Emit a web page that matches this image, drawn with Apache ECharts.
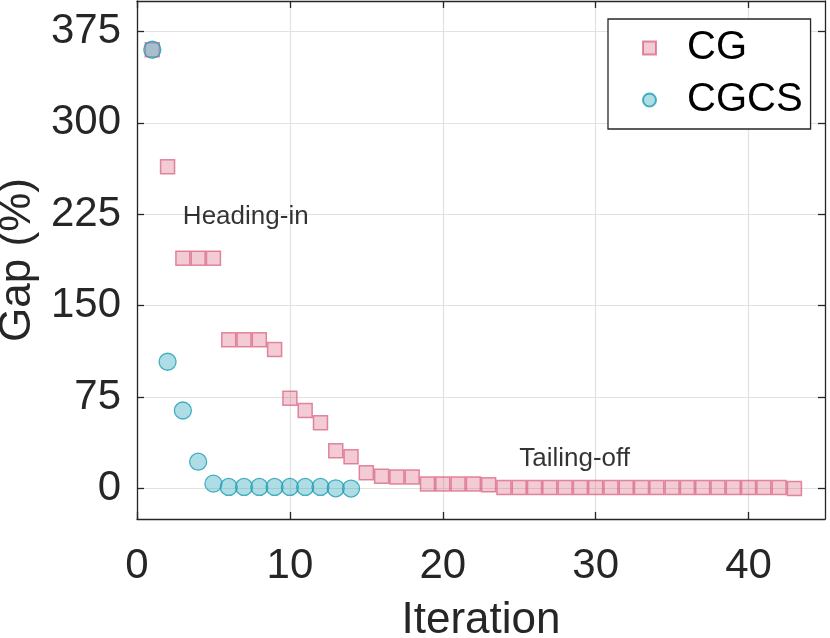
<!DOCTYPE html>
<html>
<head>
<meta charset="utf-8">
<script src="https://cdn.jsdelivr.net/npm/echarts@6/dist/echarts.min.js"></script>
<style>
html,body{margin:0;padding:0;background:#fff;}
#chart{width:830px;height:638px;}
</style>
</head>
<body>
<div id="chart"></div>
<script>
// ---- data ----
var iterCG = [1,2,3,4,5,6,7,8,9,10,11,12,13,14,15,16,17,18,19,20,21,22,23,24,25,26,27,28,29,30,31,32,33,34,35,36,37,38,39,40,41,42,43];
var gapCG = [360,264,189,189,189,122,122,122,114,74,64,54,31,26,13,10,9.5,9.5,3.8,3.8,3.8,3.8,3.0,0.8,0.8,0.8,0.8,0.8,0.8,0.8,0.8,0.8,0.8,0.8,0.8,0.8,0.8,0.8,0.8,0.8,0.8,0.8,0];
var iterCGCS = [1,2,3,4,5,6,7,8,9,10,11,12,13,14];
var gapCGCS = [360,104,64,22,4,1.3,1.3,1.3,1.3,1.3,1.3,1.3,0.2,0];
var xTicks = [0,10,20,30,40];
var yTicks = [0,75,150,225,300,375];
var annotationTexts = ['Heading-in','Tailing-off'];
var annotationX = [3,25];
var annotationY = [223,24];
var seriesNames = ['CG','CGCS'];

var FONT = 'Liberation Sans, Arial, Helvetica, sans-serif';
var TXT = '#262626';

var annData = annotationTexts.map(function(t,i){ return {value:[annotationX[i], annotationY[i]], name:t}; });

function tick(vals){ return {show:true, inside:true, length:7, customValues:vals, lineStyle:{color:TXT, width:1.3}}; }
function line(){ return {show:true, onZero:false, lineStyle:{color:TXT, width:1.3}}; }

var chart = echarts.init(document.getElementById('chart'));
chart.setOption({
  animation:false,
  backgroundColor:'#fff',
  textStyle:{fontFamily:FONT},
  grid:{left:137, right:5, top:1, bottom:119, containLabel:false, outerBoundsMode:'none'},
  legend:{
    data:[{name:seriesNames[0], icon:'rect'},{name:seriesNames[1], icon:'circle'}],
    orient:'vertical', left:608, top:19,
    itemWidth:13, itemHeight:13, itemGap:12,
    padding:[9,8,9,34],
    backgroundColor:'#fff', borderColor:TXT, borderWidth:1.3, borderRadius:0,
    textStyle:{fontSize:40, color:'#000', fontFamily:FONT, lineHeight:40, padding:[0,0,0,26]}
  },
  xAxis:[
    {type:'value', min:0, max:45, position:'bottom',
      name:'Iteration', nameLocation:'middle', nameGap:80,
      nameTextStyle:{fontSize:44, color:TXT, fontFamily:FONT},
      axisLine:line(), axisTick:tick(xTicks),
      axisLabel:{fontSize:42, color:TXT, margin:26, customValues:xTicks, fontFamily:FONT},
      splitLine:{show:true, lineStyle:{color:'#e2e2e2', width:1.2}}
    },
    {type:'value', min:0, max:45, position:'top',
      axisLine:line(), axisTick:tick(xTicks),
      axisLabel:{show:false}, splitLine:{show:false}
    }
  ],
  yAxis:[
    {type:'value', min:-25, max:400, position:'left',
      name:'Gap (%)', nameLocation:'middle', nameGap:84,
      nameTextStyle:{fontSize:44, color:TXT, fontFamily:FONT},
      axisLine:line(), axisTick:tick(yTicks),
      axisLabel:{fontSize:42, color:TXT, margin:16, customValues:yTicks, fontFamily:FONT},
      splitLine:{show:true, lineStyle:{color:'#e2e2e2', width:1.2}}
    },
    {type:'value', min:-25, max:400, position:'right',
      axisLine:line(), axisTick:tick(yTicks),
      axisLabel:{show:false}, splitLine:{show:false}
    }
  ],
  series:[
    {
      name:seriesNames[0], type:'scatter', symbol:'rect', symbolSize:14,
      data:iterCG.map(function(x,i){return [x, gapCG[i]];}),
      itemStyle:{color:'rgba(214,86,118,0.38)', borderColor:'rgba(214,86,118,0.85)', borderWidth:1.5},
      z:2
    },
    {
      name:seriesNames[1], type:'scatter', symbol:'circle', symbolSize:17,
      data:iterCGCS.map(function(x,i){return [x, gapCGCS[i]];}),
      itemStyle:{color:'rgba(55,170,192,0.5)', borderColor:'#1a9db2', borderWidth:1.3},
      z:3
    },
    {
      name:'annotations', type:'scatter', symbolSize:0, silent:true,
      data:annData,
      label:{show:true, position:'right', distance:0, formatter:function(p){return p.name;},
        fontSize:26, color:'#000', fontFamily:FONT},
      z:4
    }
  ]
});
</script>
</body>
</html>
